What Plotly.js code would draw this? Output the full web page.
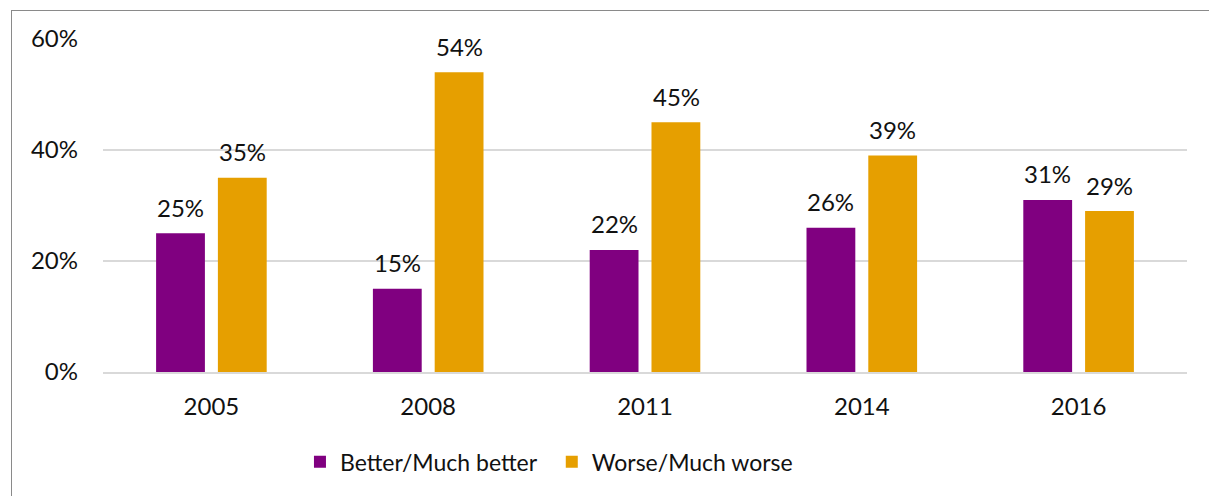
<!DOCTYPE html>
<html>
<head>
<meta charset="utf-8">
<script src="https://cdn.plot.ly/plotly-3.0.1.min.js"></script>
<style>
  html, body { margin: 0; padding: 0; background: #ffffff; }
  #frame { position: absolute; left: 11px; top: 10px; width: 1300px; height: 600px; border: 1.5px solid #8a8a8a; box-sizing: border-box; }
  #chart { position: absolute; left: 0; top: 0; width: 1209px; height: 496px; }
</style>
</head>
<body>
<div id="frame"></div>
<div id="chart"></div>
<script>
const years = ['2005', '2008', '2011', '2014', '2016'];
const better = [25, 15, 22, 26, 31];
const worse = [35, 54, 45, 39, 29];
const seriesNames = ['Better/Much better', 'Worse/Much worse'];
const yTicks = [0, 20, 40, 60];

const fontFam = 'Lato, "DejaVu Sans", sans-serif';
const colors = ['#800080', '#E69F00'];

const traces = [
  {
    type: 'bar', name: seriesNames[0], x: years, y: better,
    marker: { color: colors[0] }, hoverinfo: 'skip', legend: 'legend'
  },
  {
    type: 'bar', name: seriesNames[1], x: years, y: worse,
    marker: { color: colors[1] }, hoverinfo: 'skip', legend: 'legend2'
  }
];

// value labels placed over each bar through the category axis (index positions)
const annotations = [];
[better, worse].forEach((vals, si) => {
  vals.forEach((v, i) => {
    annotations.push({
      x: i, y: v, xref: 'x', yref: 'y',
      text: v + '%', showarrow: false,
      xshift: si === 0 ? -31 : 31, yshift: 26,
      yanchor: 'middle', xanchor: 'center',
      font: { size: 24, color: '#111111', family: fontFam }
    });
  });
});

const legendBase = {
  orientation: 'h', y: -0.27, yanchor: 'middle', xanchor: 'left',
  font: { size: 23 }, itemwidth: 30, bgcolor: 'rgba(0,0,0,0)'
};

const layout = {
  width: 1209, height: 496,
  margin: { l: 103, r: 22, t: 39, b: 124 },
  paper_bgcolor: 'rgba(0,0,0,0)', plot_bgcolor: 'rgba(0,0,0,0)',
  font: { family: fontFam, size: 24, color: '#111111' },
  barmode: 'group', bargap: 0.43, bargroupgap: 0.21,
  annotations: annotations,
  xaxis: {
    type: 'category', categoryarray: years, categoryorder: 'array',
    range: [-0.5, years.length - 0.5],
    showgrid: false, zeroline: false,
    showline: true, linecolor: '#d9d9d9', linewidth: 2,
    ticks: '', tickfont: { size: 24 }, ticklabelstandoff: 12
  },
  yaxis: {
    range: [0, 60], tickvals: yTicks, ticktext: yTicks.map(v => v + '%'),
    showgrid: true, gridcolor: '#d9d9d9', gridwidth: 1.5,
    zeroline: false, showline: false, ticks: '',
    tickfont: { size: 24 }, ticklabelstandoff: 24
  },
  showlegend: true,
  legend: Object.assign({}, legendBase, { x: 0.1817 }),
  legend2: Object.assign({}, legendBase, { x: 0.414 })
};

Plotly.newPlot('chart', traces, layout, { displayModeBar: false, staticPlot: true });
</script>
</body>
</html>
